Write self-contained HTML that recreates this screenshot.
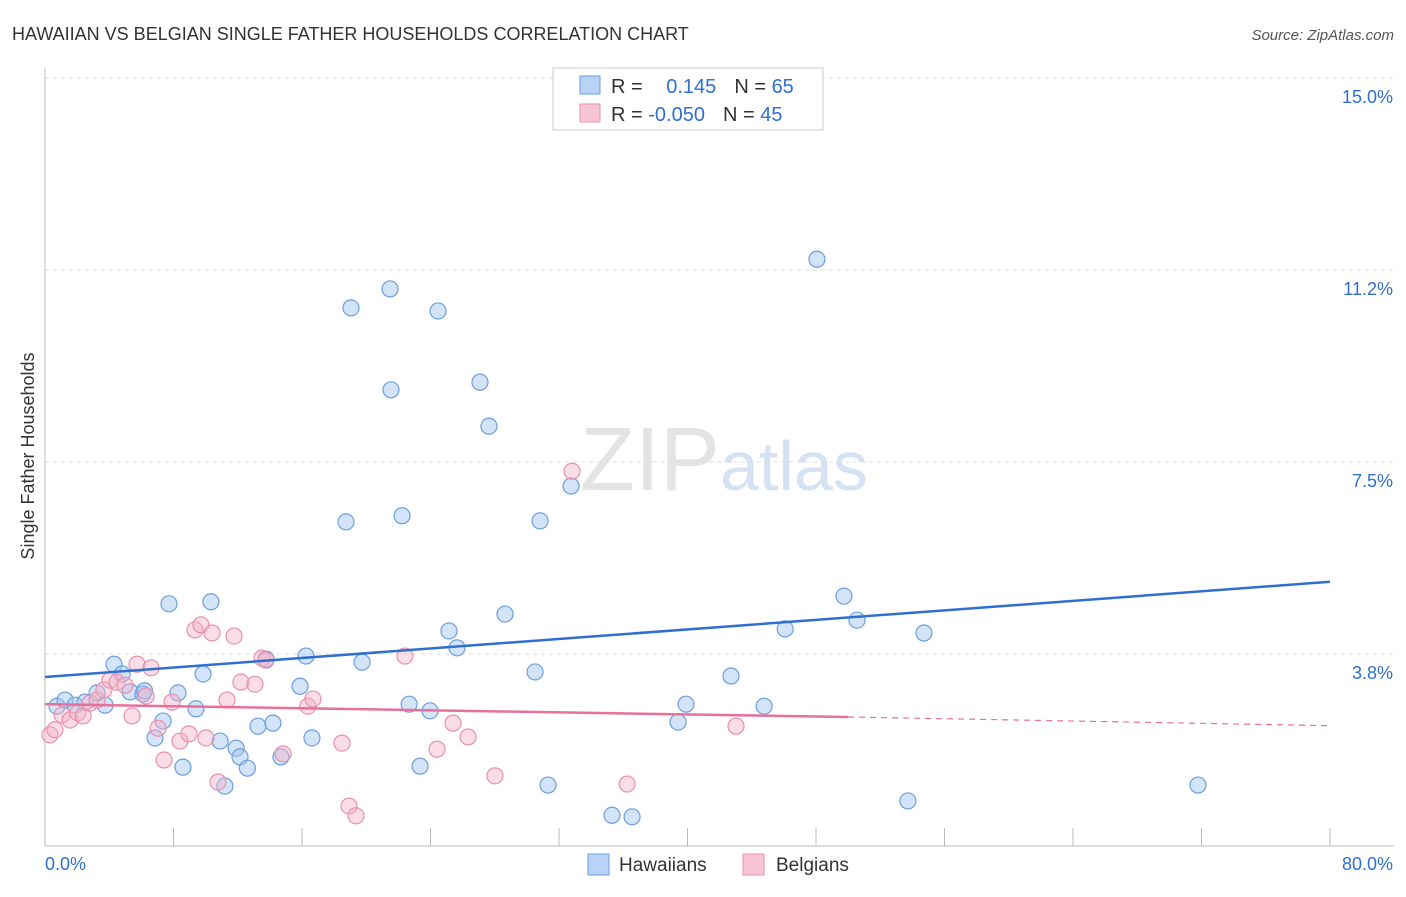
<!DOCTYPE html>
<html><head><meta charset="utf-8"><style>
body{margin:0;background:#fff;font-family:"Liberation Sans",sans-serif}
svg text{font-family:"Liberation Sans",sans-serif}
</style></head><body>
<svg id="chart" width="1406" height="892" xmlns="http://www.w3.org/2000/svg">
<text x="12" y="40" font-size="18" fill="#333">HAWAIIAN VS BELGIAN SINGLE FATHER HOUSEHOLDS CORRELATION CHART</text>
<text x="1394" y="40" font-size="15" fill="#555" text-anchor="end" font-style="italic">Source: ZipAtlas.com</text>
<text x="720" y="490" font-size="90" text-anchor="end" fill="#e4e4e4" font-family="Liberation Serif">ZIP</text>
<text x="720" y="490" font-size="70" fill="#d4e2f4">atlas</text>
<text transform="translate(34,456) rotate(-90)" font-size="18" fill="#333" text-anchor="middle">Single Father Households</text>
<g id="grid"></g><g id="axes"></g><g id="pts"></g><g id="trends"></g>
<g>
<rect x="553" y="68" width="270" height="62" fill="#fff" stroke="#ccc"/>
<rect x="580" y="76" width="20" height="18" fill="#b8d3f5" stroke="#6a9ee0"/>
<rect x="580" y="104" width="20" height="18" fill="#f8c5d5" stroke="#e890ae"/>
<text x="611" y="93" font-size="20" fill="#333">R = <tspan fill="#2f6fd0" dx="18">0.145</tspan><tspan dx="18" fill="#333">N = </tspan><tspan fill="#2f6fd0">65</tspan></text>
<text x="611" y="121" font-size="20" fill="#333">R = <tspan fill="#2f6fd0">-0.050</tspan><tspan dx="18" fill="#333">N = </tspan><tspan fill="#2f6fd0">45</tspan></text>
</g>
<g>
<rect x="588" y="854" width="21" height="21" fill="#b8d3f5" stroke="#6a9ee0"/>
<text x="619" y="871" font-size="19" fill="#333">Hawaiians</text>
<rect x="743" y="854" width="21" height="21" fill="#f8c5d5" stroke="#e890ae"/>
<text x="776" y="871" font-size="19" fill="#333">Belgians</text>
</g>
</svg>
<script>
const yTicks=[3.75,7.5,11.25,15];
const yTickLabels=["3.8%","7.5%","11.2%","15.0%"];
const hawX=[0.75,1.25,1.87,2.49,3.24,3.74,4.3,4.8,5.3,6.1,6.2,6.85,7.35,7.72,8.28,8.59,9.4,9.84,10.33,10.9,11.2,11.9,12.14,12.6,13.26,13.76,14.19,14.69,15.88,16.25,16.62,18.74,19.05,19.74,21.48,21.54,22.23,22.67,23.35,23.97,24.47,25.15,25.65,27.08,27.64,28.64,30.51,30.82,31.32,32.75,35.3,36.55,39.41,39.91,42.71,44.77,46.08,48.06,49.74,50.55,53.72,54.72,71.78];
const hawY=[2.73,2.85,2.75,2.81,2.99,2.75,3.55,3.36,3.01,2.97,3.03,2.11,2.44,4.73,2.99,1.54,2.68,3.36,4.77,2.05,1.17,1.91,1.74,1.52,2.34,3.65,2.4,1.74,3.12,3.71,2.11,6.33,10.51,3.59,10.88,8.91,6.45,2.77,1.56,2.64,10.45,4.2,3.87,9.06,8.2,4.53,3.4,6.35,1.19,7.03,0.6,0.57,2.42,2.77,3.32,2.73,4.24,11.46,4.88,4.41,0.88,4.16,1.19];
const belX=[0.31,0.62,1.06,1.56,2.05,2.37,2.8,3.24,3.67,4.05,4.48,4.98,5.42,5.73,6.29,6.6,7.04,7.41,7.91,8.4,8.96,9.34,9.71,10.02,10.4,10.77,11.33,11.77,12.2,13.07,13.51,13.76,14.82,16.37,16.68,18.49,18.93,19.36,22.41,24.41,25.4,26.34,28.01,32.81,36.24,43.02];
const belY=[2.17,2.27,2.56,2.46,2.6,2.54,2.79,2.85,3.05,3.24,3.2,3.14,2.54,3.55,2.93,3.48,2.3,1.68,2.81,2.05,2.19,4.22,4.32,2.11,4.16,1.25,2.85,4.1,3.2,3.16,3.67,3.63,1.8,2.73,2.87,2.01,0.78,0.59,3.71,1.89,2.4,2.13,1.37,7.32,1.21,2.34];
const hawTrend=[0,3.3,80,5.16];
const belTrend=[0,2.77,50,2.52,80,2.35];
const X0=45,X1=1330,Y0=846,PX=51.2;
const sx=v=>X0+(v/80)*(X1-X0), sy=v=>Y0-v*PX;
const NS="http://www.w3.org/2000/svg";
function mk(p,t,a){const e=document.createElementNS(NS,t);for(const k in a)e.setAttribute(k,a[k]);p.appendChild(e);return e;}
const grid=document.getElementById('grid'),axes=document.getElementById('axes'),pts=document.getElementById('pts'),tr=document.getElementById('trends');
yTicks.forEach((t,i)=>{
 const l=mk(grid,'line',{x1:45,x2:1394,y1:sy(t),y2:sy(t),stroke:'#ddd','stroke-dasharray':'4,4'});
 
 
 const tx=mk(axes,'text',{x:1393,y:sy(t)+25,'font-size':18,fill:'#2f6fd0','text-anchor':'end'});tx.textContent=yTickLabels[i];
 
 
});
mk(axes,'line',{x1:45,x2:45,y1:68,y2:846,stroke:'#bbb'});
mk(axes,'line',{x1:45,x2:1394,y1:846,y2:846,stroke:'#bbb'});
for(let i=0;i<=10;i++){const t=mk(axes,'line',{x1:sx(i*8),x2:sx(i*8),y1:828,y2:846,stroke:'#bbb'});
 
 }
let a=mk(axes,'text',{x:45,y:870,'font-size':18,fill:'#2f6fd0'});a.textContent='0.0%';


a=mk(axes,'text',{x:1393,y:870,'font-size':18,fill:'#2f6fd0','text-anchor':'end'});a.textContent='80.0%';


hawX.forEach((x,i)=>{const c=mk(pts,'circle',{cx:sx(x),cy:sy(hawY[i]),r:8,fill:'rgba(160,195,240,0.45)',stroke:'#6a9ee0','stroke-width':1.2});
 
 });
belX.forEach((x,i)=>{const c=mk(pts,'circle',{cx:sx(x),cy:sy(belY[i]),r:8,fill:'rgba(245,180,200,0.45)',stroke:'#e890ae','stroke-width':1.2});
 
 });
let l=mk(tr,'line',{x1:sx(hawTrend[0]),y1:sy(hawTrend[1]),x2:sx(hawTrend[2]),y2:sy(hawTrend[3]),stroke:'#2f6fd0','stroke-width':2.5});


l=mk(tr,'line',{x1:sx(belTrend[0]),y1:sy(belTrend[1]),x2:sx(belTrend[2]),y2:sy(belTrend[3]),stroke:'#e8709a','stroke-width':2.5});


l=mk(tr,'line',{x1:sx(belTrend[2]),y1:sy(belTrend[3]),x2:sx(belTrend[4]),y2:sy(belTrend[5]),stroke:'#e8709a','stroke-width':1.2,'stroke-dasharray':'6,5'});


</script>
</body></html>
